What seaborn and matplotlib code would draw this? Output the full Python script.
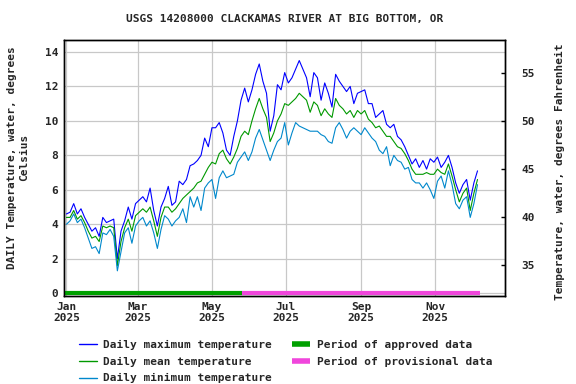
import matplotlib
matplotlib.use('agg')

import matplotlib.pyplot as plt
from matplotlib.lines import Line2D
import pandas as pd
import seaborn as sns

SITE = 'USGS 14208000 CLACKAMAS RIVER AT BIG BOTTOM, OR'

# daily values read every 3rd day starting Jan 1 2025 (deg C)
START = '2025-01-01'
MAX_C = [4.6, 4.7, 5.2, 4.6, 4.9, 4.4, 4.0, 3.6, 3.8, 3.3,
         4.4, 4.1, 4.2, 4.3, 2.0, 3.6, 4.2, 5.0, 4.3, 5.2,
         5.4, 5.6, 5.3, 6.1, 4.8, 3.9, 5.0, 5.5, 6.2, 5.1,
         5.3, 6.5, 6.3, 6.6, 7.4, 7.5, 7.7, 8.0, 9.0, 8.5,
         9.6, 9.6, 9.9, 9.3, 8.3, 8.0, 9.1, 10.0, 11.2, 11.9,
         11.1, 11.8, 12.7, 13.3, 12.3, 11.6, 9.4, 10.3, 12.1, 11.8,
         12.8, 12.2, 12.5, 13.0, 13.5, 13.0, 12.5, 11.4, 12.8, 12.5,
         11.2, 12.2, 11.6, 10.8, 12.7, 12.3, 12.0, 11.7, 12.0, 11.0,
         11.6, 11.7, 11.8, 11.0, 11.0, 10.2, 10.4, 10.6, 9.8, 9.6,
         9.8, 9.1, 8.9, 8.5, 8.0, 7.5, 7.8, 7.3, 7.7, 7.2,
         7.8, 7.6, 7.9, 7.3, 7.6, 8.0, 7.3, 6.4, 5.8, 6.3,
         6.6, 5.4, 6.4, 7.1]
MEAN_C = [4.4, 4.4, 4.8, 4.3, 4.5, 4.1, 3.6, 3.2, 3.3, 3.0,
          3.9, 3.8, 3.9, 3.8, 1.6, 3.0, 3.8, 4.3, 3.6, 4.5,
          4.7, 4.9, 4.7, 5.0, 4.2, 3.3, 4.4, 5.0, 5.0, 4.7,
          4.9, 5.2, 5.5, 5.7, 5.9, 6.1, 6.4, 6.5, 6.9, 7.3,
          7.6, 7.5, 8.1, 8.3, 7.8, 7.5, 7.9, 8.4, 9.1, 9.4,
          9.2, 10.0, 10.7, 11.3, 10.7, 10.2, 8.8, 9.3, 10.0, 10.4,
          11.0, 10.9, 11.1, 11.3, 11.6, 11.4, 11.2, 10.5, 11.1, 10.9,
          10.3, 10.7, 10.4, 10.2, 11.3, 10.9, 10.7, 10.4, 10.6, 10.2,
          10.6, 10.4, 10.6, 10.1, 9.9, 9.6, 9.7, 9.4, 9.1, 9.1,
          8.8, 8.5, 8.4, 8.1, 7.7, 7.2, 6.9, 6.9, 6.9, 7.0,
          6.9, 6.9, 7.2, 7.0, 6.9, 7.5, 6.8, 6.0, 5.3, 5.8,
          6.1, 4.8, 5.8, 6.6]
MIN_C = [4.0, 4.2, 4.6, 4.1, 4.3, 3.8, 3.2, 2.6, 2.7, 2.3,
         3.5, 3.4, 3.7, 3.3, 1.3, 2.4, 3.5, 3.8, 2.9, 3.9,
         4.2, 4.4, 3.9, 4.2, 3.5, 2.6, 3.7, 4.5, 4.3, 3.9,
         4.2, 4.4, 4.9, 4.1, 5.6, 5.0, 5.6, 4.8, 6.1, 6.4,
         6.6, 5.5, 6.7, 7.1, 6.7, 6.8, 6.9, 7.6, 7.9, 8.2,
         7.7, 8.2, 9.0, 9.5, 8.9, 8.3, 7.7, 8.3, 8.8, 9.0,
         9.9, 8.6, 9.3, 9.9, 9.7, 9.6, 9.5, 9.4, 9.4, 9.4,
         9.2, 9.1, 8.8, 8.7, 9.6, 9.9, 9.5, 9.0, 9.4, 9.6,
         9.4, 9.2, 9.6, 9.3, 9.0, 8.8, 8.3, 8.1, 8.5, 7.4,
         8.0, 7.7, 7.6, 7.2, 7.3, 6.6, 6.4, 6.4, 6.1, 6.4,
         6.0, 5.5, 6.5, 6.8, 6.1, 7.1, 6.3, 5.2, 4.9, 5.4,
         5.6, 4.4, 5.2, 6.3]

APPROVED_END = '2025-05-26'
PROVISIONAL_END = '2025-12-08'
TICK_DATES = ['2025-01-01', '2025-03-01', '2025-05-01',
              '2025-07-01', '2025-09-01', '2025-11-01']
TICK_LABELS = ['Jan\n2025', 'Mar\n2025', 'May\n2025',
               'Jul\n2025', 'Sep\n2025', 'Nov\n2025']
C_TICKS = [0, 2, 4, 6, 8, 10, 12, 14]
F_TICKS = [35, 40, 45, 50, 55]

df = pd.DataFrame({
    'date': pd.date_range(START, periods=len(MAX_C), freq='3D'),
    'max': MAX_C,
    'mean': MEAN_C,
    'min': MIN_C,
})

sns.set_style('white')
plt.rcParams['font.family'] = ['DejaVu Sans Mono']
plt.rcParams['font.weight'] = 'bold'
plt.rcParams['font.size'] = 8

fig = plt.figure(figsize=(5.76, 3.84), dpi=100)
ax = fig.add_axes([64 / 576, 88 / 384, 441 / 576, 256.5 / 384])

x0 = pd.Timestamp('2024-12-30')
x1 = pd.Timestamp('2025-12-28 16:00')
ylo, yhi = -0.16, 14.72

# approval status bar along zero
ax.plot([x0, pd.Timestamp(APPROVED_END)], [0, 0], color='#00a000', lw=3,
        solid_capstyle='butt', zorder=3)
ax.plot([pd.Timestamp(APPROVED_END), pd.Timestamp(PROVISIONAL_END)], [0, 0], color='#f046dc', lw=3,
        solid_capstyle='butt', zorder=3)

sns.lineplot(data=df, x='date', y='max', color='#0000ff', lw=0.8, ax=ax)
sns.lineplot(data=df, x='date', y='mean', color='#009900', lw=0.8, ax=ax)
sns.lineplot(data=df, x='date', y='min', color='#0088cc', lw=0.8, ax=ax)

ax.set_xlim(x0, x1)
ax.set_ylim(ylo, yhi)
ax.set_xticks(pd.to_datetime(TICK_DATES))
ax.set_xticklabels(TICK_LABELS)
ax.set_yticks(C_TICKS)
ax.set_xlabel('')
ax.set_ylabel('')
ax.grid(True, color='#c8c8c8', lw=0.9)
ax.set_axisbelow(True)
ax.tick_params(axis='both', direction='in', length=0, pad=4, labelsize=8)

ax2 = ax.twinx()
ax2.set_ylim(ylo * 1.8 + 32, yhi * 1.8 + 32)
ax2.set_yticks(F_TICKS)
ax2.tick_params(axis='y', direction='in', length=3, width=1, color='black', pad=12, labelsize=8)
ax2.grid(False)
for a in (ax, ax2):
    for s in a.spines.values():
        s.set_color('black')
        s.set_linewidth(1)

fig.text(0.5 * (64 + 505) / 576, 1 - 19 / 384, SITE, ha='center', va='center', fontsize=8, fontweight='bold')
fig.text(18 / 576, 0.59, 'DAILY Temperature, water, degrees\nCelsius', rotation=90,
         ha='center', va='center', multialignment='center', fontsize=8)
fig.text(560 / 576, 0.553, 'Temperature, water, degrees Fahrenheit', rotation=90,
         ha='center', va='center', fontsize=8)

handles = [
    Line2D([], [], color='#0000ff', lw=1),
    Line2D([], [], color='#009900', lw=1),
    Line2D([], [], color='#0088cc', lw=1),
    Line2D([], [], color='#00a000', lw=4, solid_capstyle='butt'),
    Line2D([], [], color='#f046dc', lw=4, solid_capstyle='butt'),
]
labels = ['Daily maximum temperature', 'Daily mean temperature', 'Daily minimum temperature',
          'Period of approved data', 'Period of provisional data']
fig.legend(handles, labels, ncol=2, loc='upper left', bbox_to_anchor=(79 / 576, 1 - 340 / 384),
           frameon=False, fontsize=8, handlelength=1.6, handletextpad=0.6,
           columnspacing=1.8, labelspacing=0.6, borderaxespad=0, borderpad=0)

fig.savefig('out.png', dpi=100)
